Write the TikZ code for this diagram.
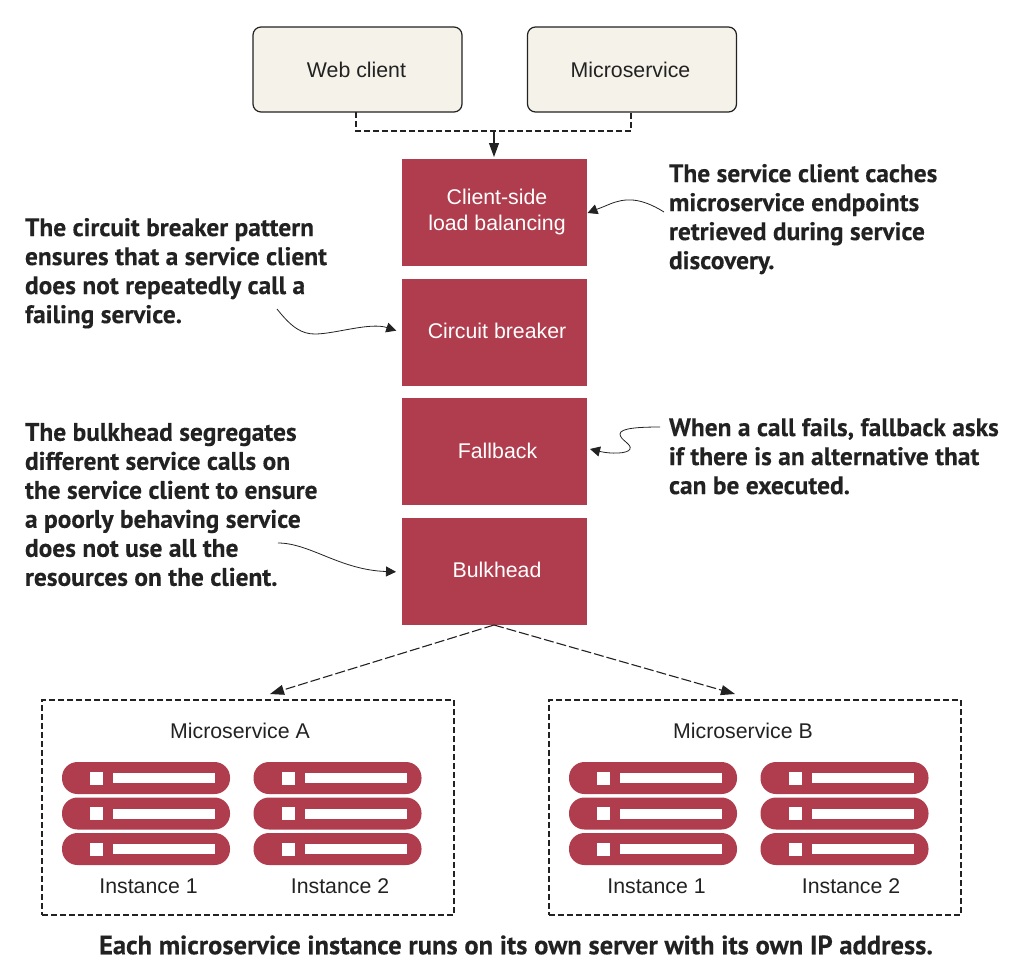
\documentclass[tikz,border=0pt]{standalone}
\usepackage{fontspec}
\setmainfont{Liberation Sans}
\newfontfamily\notefont{PT Sans Bold}[FakeBold=0.25]
\usetikzlibrary{arrows.meta}
\definecolor{rackred}{HTML}{B03D4E}
\definecolor{clientfill}{HTML}{F5F2EA}
\definecolor{inkc}{HTML}{222222}
\tikzset{
  x=1pt,y=-1pt,
  base/.style={inner sep=0pt,outer sep=0pt,text=inkc,font=\fontsize{21.3}{25.5}\selectfont},
  clientbox/.style={base,draw=inkc,line width=1.2pt,fill=clientfill,rounded corners=8pt,minimum width=209pt,minimum height=85pt},
  redbox/.style={base,fill=rackred,text=white,align=center,minimum width=185pt,minimum height=107pt},
  group/.style={base,draw=inkc,line width=1.1pt,dash pattern=on 6pt off 3pt,minimum width=412pt,minimum height=215pt},
  note/.style={base,font=\notefont\fontsize{25.4}{29}\selectfont,align=left,anchor=north west},
  dashconn/.style={draw=inkc,line width=1.1pt,dash pattern=on 6pt off 3pt},
  dasharrow/.style={draw=inkc,line width=1.1pt,-{Triangle[length=14pt,width=10pt]}},
  curve/.style={draw=inkc,line width=.8pt,-{Triangle[length=10pt,width=10pt]}},
  label/.style={base},
  pill/.style={fill=rackred,rounded corners=15.5pt},
  hole/.style={fill=white},
  rack/.pic={
    \foreach \y in {0,35.5,71}{
      \fill[pill] (0,\y) rectangle (168,\y+32);
      \fill[hole] (28,\y+9.5) rectangle (41,\y+22.5);
      \fill[hole] (51,\y+11) rectangle (153,\y+21);
    }
  }
}
\begin{document}
\begin{tikzpicture}
\useasboundingbox (0,0) rectangle (1030,972);
\node[clientbox] (web) at (357.5,69.5) {\raisebox{-1pt}{\hspace*{-2pt}Web client}};
\node[clientbox] (micro) at (632,69.5) {\raisebox{-1pt}{\hspace*{-3pt}Microservice}};
\node[redbox] (lb) at (494.5,212.5) {\raisebox{1pt}{\hspace*{5pt}\begin{tabular}{@{}c@{}}Client-side\\load balancing\end{tabular}}};
\node[redbox] (cb) at (494.5,332.5) {\raisebox{3pt}{\hspace*{5pt}Circuit breaker}};
\node[redbox] (fb) at (494.5,451.5) {\raisebox{2pt}{\hspace*{6pt}Fallback}};
\node[redbox] (bh) at (494.5,571.5) {\raisebox{4pt}{\hspace*{5pt}Bulkhead}};
\node[group] (ga) at (248,807.5) {};
\node[group] (gb) at (755,807.5) {};

\coordinate (j) at (494,131);
\draw[dashconn] (web.south -| 356,0) -- (356,131) -- (631,131) -- (micro.south -| 631,0);
\draw[dasharrow] (j) -- (494,157);
\coordinate (bhfoot) at (494,625);
\coordinate (gatip) at (270,694);
\coordinate (gbtip) at (735,694);
\draw[dasharrow,dash pattern=on 10pt off 3pt] (bhfoot) -- (gatip);
\draw[dasharrow,dash pattern=on 10pt off 3pt] (bhfoot) -- (gbtip);

\node[note] (nlb) at (669,164) {The service client caches\\microservice endpoints\\retrieved during service\\discovery.};
\node[note] (ncb) at (25,218) {The circuit breaker pattern\\ensures that a service client\\does not repeatedly call a\\failing service.};
\node[note] (nfb) at (669,418) {When a call fails, fallback asks\\if there is an alternative that\\can be executed.};
\node[note] (nbh) at (25,423) {The bulkhead segregates\\different service calls on\\the service client to ensure\\a poorly behaving service\\does not use all the\\resources on the client.};
\node[base,font=\notefont\fontsize{26.55}{29}\selectfont] (ncap) at (516,945) {Each microservice instance runs on its own server with its own IP address.};

\coordinate (slb) at (664,212);
\coordinate (scb) at (277,309);
\coordinate (sfb) at (660,427);
\coordinate (sbh) at (278,543);
\draw[curve] (slb) .. controls (640,197) and (625,198) .. (610,204) .. controls (603,207) and (595,210) .. ([xshift=0.5pt,yshift=-.5pt]lb.east);
\draw[curve,shorten >=6pt] (scb) .. controls (292,328) and (302,334) .. (315,334) .. controls (335,334) and (370,322) .. (cb.west);
\draw[curve] (sfb) .. controls (640,427) and (620,428) .. (620,434) .. controls (620,440) and (632,444) .. (630,449) .. controls (628,454) and (610,454) .. ([xshift=3pt,yshift=2.5pt]fb.east);
\draw[curve,shorten >=6pt] (sbh) .. controls (310,543) and (340,570) .. (402,572);

\node[label] (ma) at (240,731) {Microservice A};
\node[label] (mb) at (743,731) {Microservice B};
\pic at (62,762) {rack};
\pic at (253.5,762) {rack};
\pic at (569,762) {rack};
\pic at (760.5,762) {rack};
\node[label] (a1) at (148.5,886.5) {Instance 1};
\node[label] (a2) at (340,886.5) {Instance 2};
\node[label] (b1) at (656.5,886.5) {Instance 1};
\node[label] (b2) at (851,886.5) {Instance 2};
\end{tikzpicture}
\end{document}
